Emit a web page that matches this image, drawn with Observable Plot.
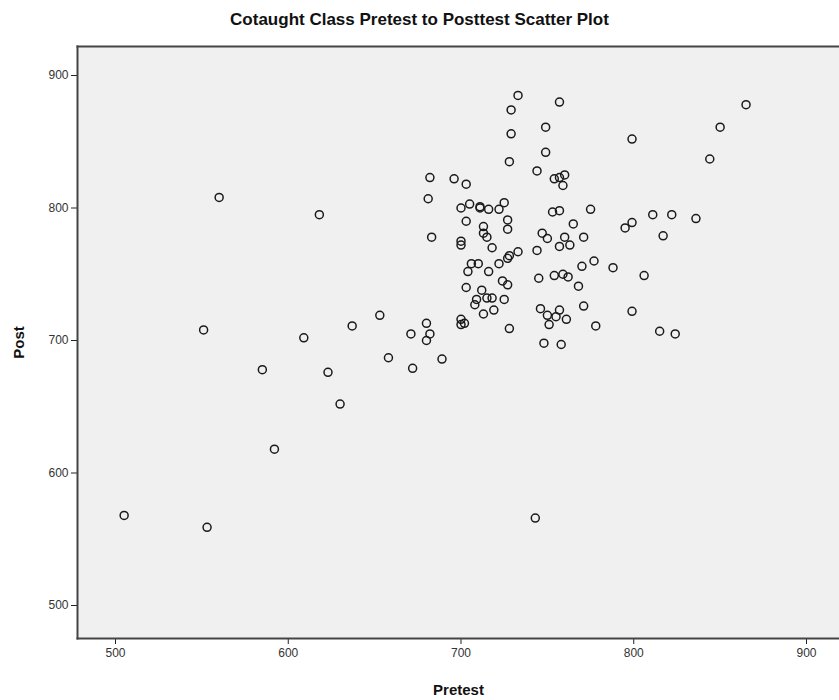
<!DOCTYPE html>
<html>
<head>
<meta charset="utf-8">
<script src="https://cdn.jsdelivr.net/npm/d3@7"></script>
<script src="https://cdn.jsdelivr.net/npm/@observablehq/plot@0.6"></script>
<style>
  body { margin: 0; background: #fff; font-family: "Liberation Sans", Arial, sans-serif; }
  #title { width: 839px; height: 40px; line-height: 40px; text-align: center;
           font-weight: bold; font-size: 17px; color: #111; }
  g[aria-label="x-axis label"] text, g[aria-label="y-axis label"] text {
    font-weight: bold; font-size: 15px; fill: #111;
  }
  g[aria-label="x-axis tick label"] text, g[aria-label="y-axis tick label"] text {
    fill: #333;
  }
</style>
</head>
<body>
<div id="title">Cotaught Class Pretest to Posttest Scatter Plot</div>
<div id="chart"></div>
<script>
// Pretest / posttest scores, one entry per student
const pretest = [
  505, 553, 560, 551, 585, 592, 609, 618, 623, 630, 637,
  733, 757, 729, 729, 749, 749, 728, 744, 754, 757, 760, 759,
  682, 696, 703, 681, 700, 705, 711, 711, 716, 722, 725,
  703, 727, 727, 713, 713, 715, 718, 683, 700, 700,
  753, 757, 775, 765, 771, 747, 750, 760, 763, 757,
  744, 733, 728, 727, 777,
  865, 850, 799, 844, 836, 822, 811, 817, 799, 795, 806, 799, 815, 824,
  788, 770, 768, 771, 778, 761, 757, 755, 750, 751, 746, 748, 758,
  745, 754, 759, 762,
  653, 658, 671, 672, 680, 680, 682, 689, 700, 700, 702,
  703, 704, 706, 708, 709, 710, 712, 713, 715, 718, 719, 716,
  722, 724, 727, 725, 728, 743
];
const post = [
  568, 559, 808, 708, 678, 618, 702, 795, 676, 652, 711,
  885, 880, 874, 856, 861, 842, 835, 828, 822, 823, 825, 817,
  823, 822, 818, 807, 800, 803, 801, 800, 799, 799, 804,
  790, 791, 784, 786, 781, 778, 770, 778, 775, 772,
  797, 798, 799, 788, 778, 781, 777, 778, 772, 771,
  768, 767, 764, 762, 760,
  878, 861, 852, 837, 792, 795, 795, 779, 789, 785, 749, 722, 707, 705,
  755, 756, 741, 726, 711, 716, 723, 718, 719, 712, 724, 698, 697,
  747, 749, 750, 748,
  719, 687, 705, 679, 713, 700, 705, 686, 716, 712, 713,
  740, 752, 758, 727, 731, 758, 738, 720, 732, 732, 723, 752,
  758, 745, 742, 731, 709, 566
];
const xTicks = [500, 600, 700, 800, 900];
const yTicks = [500, 600, 700, 800, 900];

const scores = pretest.map((p, i) => ({ pretest: p, post: post[i] }));

const chart = Plot.plot({
  width: 839,
  height: 660,
  marginTop: 6,
  marginLeft: 77,
  marginRight: 0,
  marginBottom: 62,
  style: { fontFamily: "Liberation Sans, Arial, sans-serif", fontSize: "12px", color: "#222", background: "transparent" },
  x: { domain: [478, 919.1], ticks: xTicks, tickSize: 6, tickPadding: 4,
       label: "Pretest", labelArrow: "none", labelAnchor: "center", labelOffset: 56 },
  y: { domain: [475.1, 921.9], ticks: yTicks, tickSize: 6, tickPadding: 3,
       label: "Post", labelArrow: "none", labelAnchor: "center", labelOffset: 64 },
  marks: [
    Plot.frame({ fill: "#f0f0f0", stroke: null }),
    Plot.frame({ anchor: "left", stroke: "#444", strokeWidth: 2 }),
    Plot.frame({ anchor: "top", stroke: "#444", strokeWidth: 2 }),
    Plot.frame({ anchor: "bottom", stroke: "#444", strokeWidth: 2 }),
    Plot.dot(scores, { x: "pretest", y: "post", r: 4, stroke: "#1a1a1a", strokeWidth: 1.5, fill: "none" })
  ]
});
document.getElementById("chart").appendChild(chart);
</script>
</body>
</html>
